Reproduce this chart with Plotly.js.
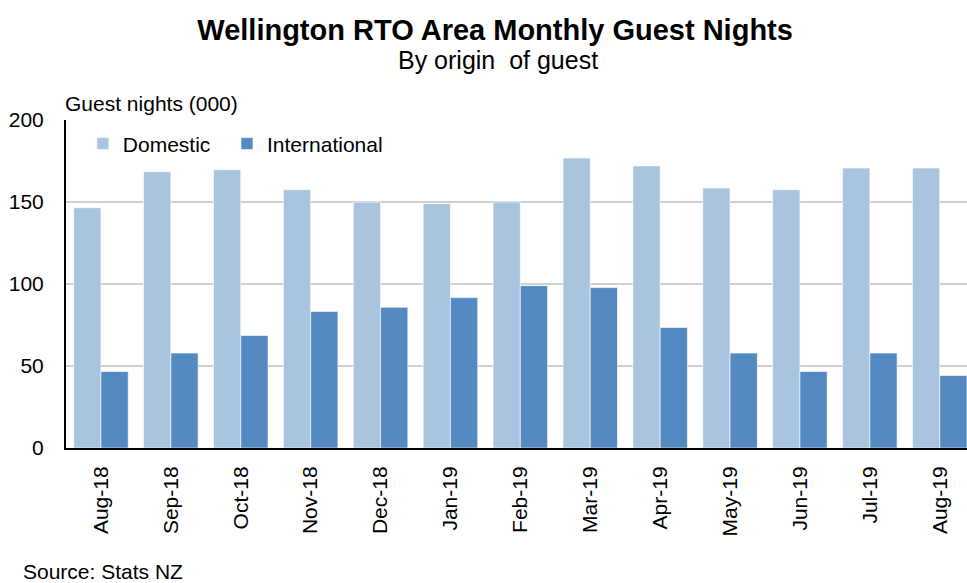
<!DOCTYPE html>
<html>
<head>
<meta charset="utf-8">
<script src="https://cdn.plot.ly/plotly-3.0.1.min.js"></script>
<style>html,body{margin:0;padding:0;background:#fff;}#chart{width:967px;height:583px;}</style>
</head>
<body>
<div id="chart"></div>
<script>
const months = ["Aug-18","Sep-18","Oct-18","Nov-18","Dec-18","Jan-19","Feb-19","Mar-19","Apr-19","May-19","Jun-19","Jul-19","Aug-19"];
const domestic = [146.5,168.5,169.7,157.5,149.9,149.0,150.0,176.8,172.0,158.5,157.5,170.7,170.7];
const international = [46.6,57.9,68.6,83.3,85.8,91.7,99.0,97.8,73.5,57.9,46.6,57.9,44.2];
const yTicks = [0,50,100,150,200];

const FONT = "Liberation Sans, Arial, sans-serif";

const traces = [
  {type:"bar", name:"Domestic", x:months, y:domestic, legend:"legend",
   marker:{color:"#A9C4DF", line:{color:"rgba(255,255,255,0.6)", width:1}}},
  {type:"bar", name:"International", x:months, y:international, legend:"legend2",
   marker:{color:"#5589C1", line:{color:"rgba(255,255,255,0.6)", width:1}}}
];

const legendBase = {
  orientation:"h", xanchor:"left", y:0.927, yanchor:"middle",
  bgcolor:"rgba(0,0,0,0)", font:{family:FONT, size:21, color:"#000"}
};

const layout = {
  width:967, height:583,
  margin:{l:66, r:0, t:120, b:135, pad:0},
  paper_bgcolor:"#fff", plot_bgcolor:"#fff",
  font:{family:FONT, color:"#000", size:21},
  barmode:"group", bargap:0.22, bargroupgap:0,
  title:{
    text:"<b>Wellington RTO Area Monthly Guest Nights</b>",
    font:{family:FONT, size:29, color:"#000"},
    x:0.512, xanchor:"center", xref:"container",
    y:1-30/583, yanchor:"middle", yref:"container"
  },
  xaxis:{
    type:"category", range:[-0.5, 12.39],
    tickangle:-90, ticks:"", showgrid:false,
    showline:true, linecolor:"#000", linewidth:2,
    tickfont:{family:FONT, size:21, color:"#000"},
    ticklabelstandoff:8, fixedrange:true
  },
  yaxis:{
    range:[0,200], tickvals:yTicks, ticktext:yTicks.map(String),
    ticks:"", showgrid:true, gridcolor:"#D0D0D0", gridwidth:1.5,
    showline:true, linecolor:"#000", linewidth:2, zeroline:false,
    tickfont:{family:FONT, size:21, color:"#000"},
    ticklabelstandoff:16, fixedrange:true
  },
  showlegend:true,
  legend:Object.assign({}, legendBase, {x:0.0187}),
  legend2:Object.assign({}, legendBase, {x:(227-66)/901}),
  annotations:[
    {text:"By origin  of guest", xref:"paper", yref:"paper", x:(498-66)/901, y:(448-60)/328,
     xanchor:"center", yanchor:"middle", showarrow:false, font:{family:FONT, size:25, color:"#000"}},
    {text:"Guest nights (000)", xref:"paper", yref:"paper", x:(63-66)/901, y:(448-103)/328,
     xanchor:"left", yanchor:"middle", showarrow:false, font:{family:FONT, size:21, color:"#000"}},
    {text:"Source: Stats NZ", xref:"paper", yref:"paper", x:(21-66)/901, y:(448-571)/328,
     xanchor:"left", yanchor:"middle", showarrow:false, font:{family:FONT, size:21, color:"#000"}}
  ]
};

Plotly.newPlot("chart", traces, layout, {displayModeBar:false, staticPlot:true});
</script>
</body>
</html>
